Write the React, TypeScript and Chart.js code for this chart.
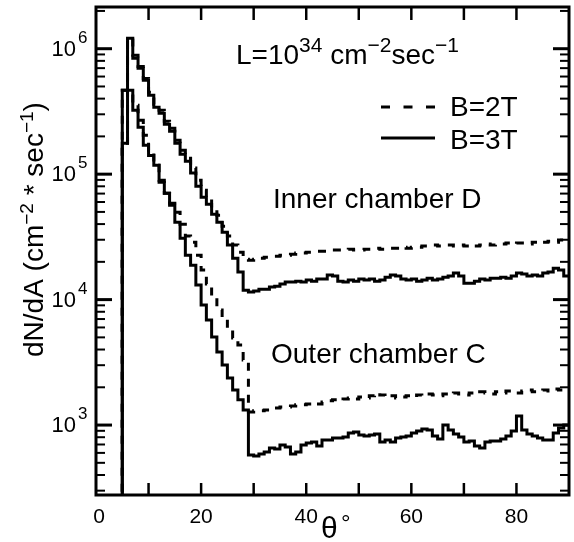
import React, { useEffect, useRef } from 'react';
import { Chart, registerables } from 'chart.js';

Chart.register(...registerables);

// ---- bins: 1 degree wide, first filled bin starts at 5 deg, last ends at 90 deg
const binEdges: number[] = Array.from({ length: 86 }, (_, i) => 5 + i);

// ---- series (values per bin, bins 5..89)
const innerB3 = [
  1.76e5, 1.21e6, 8.4e5, 6.98e5, 5.6e5, 4.25e5, 3.41e5, 3.06e5, 2.5e5, 2.2e5,
  1.76e5, 1.44e5, 1.27e5, 1.02e5, 8.0e4, 6.55e4, 5.76e4, 4.79e4, 4.14e4, 3.45e4,
  2.72e4, 2.14e4, 1.66e4, 1.19e4,
  1.15e4, 1.17e4, 1.21e4, 1.21e4, 1.26e4, 1.28e4, 1.33e4, 1.38e4, 1.38e4, 1.4e4,
  1.38e4, 1.43e4, 1.4e4, 1.46e4, 1.46e4, 1.57e4, 1.54e4, 1.4e4, 1.38e4, 1.43e4,
  1.4e4, 1.46e4, 1.43e4, 1.46e4, 1.4e4, 1.43e4, 1.51e4, 1.57e4, 1.54e4, 1.46e4,
  1.43e4, 1.46e4, 1.4e4, 1.43e4, 1.48e4, 1.43e4, 1.46e4, 1.51e4, 1.54e4, 1.63e4,
  1.54e4, 1.35e4, 1.35e4, 1.4e4, 1.46e4, 1.43e4, 1.48e4, 1.48e4, 1.51e4, 1.48e4,
  1.54e4, 1.63e4, 1.6e4, 1.54e4, 1.57e4, 1.54e4, 1.63e4, 1.66e4, 1.78e4, 1.72e4,
  1.54e4,
];
const innerB2 = [
  1.76e5, 1.21e6, 8.85e5, 7.22e5, 5.8e5, 4.49e5, 3.6e5, 3.23e5, 2.64e5, 2.32e5,
  1.86e5, 1.55e5, 1.34e5, 1.12e5, 8.96e4, 7.45e4, 6.43e4, 5.36e4, 4.71e4, 3.85e4,
  3.21e4, 2.72e4, 2.39e4, 2.1e4,
  2.06e4, 2.1e4, 2.14e4, 2.18e4, 2.22e4, 2.22e4, 2.26e4, 2.26e4, 2.3e4, 2.35e4,
  2.35e4, 2.39e4, 2.39e4, 2.43e4, 2.43e4, 2.48e4, 2.48e4, 2.48e4, 2.48e4, 2.52e4,
  2.48e4, 2.48e4, 2.52e4, 2.52e4, 2.57e4, 2.52e4, 2.57e4, 2.57e4, 2.57e4, 2.62e4,
  2.57e4, 2.62e4, 2.62e4, 2.67e4, 2.67e4, 2.72e4, 2.67e4, 2.72e4, 2.72e4, 2.67e4,
  2.72e4, 2.67e4, 2.72e4, 2.67e4, 2.72e4, 2.77e4, 2.72e4, 2.77e4, 2.77e4, 2.82e4,
  2.77e4, 2.82e4, 2.82e4, 2.77e4, 2.87e4, 2.82e4, 2.87e4, 2.92e4, 2.87e4, 2.98e4,
  3.09e4,
];
const outerB3 = [
  4.66e5, 4.66e5, 3.23e5, 2.36e5, 1.7e5, 1.41e5, 1.18e5, 8.6e4, 7.05e4, 5.66e4,
  4.14e4, 3.09e4, 2.26e4, 1.88e4, 1.31e4, 9.04e3, 6.87e3, 5.03e3, 3.82e3, 3.01e3,
  2.37e3, 1.9e3, 1.59e3, 1.32e3,
  578, 568, 589, 611, 657, 645, 694, 669, 589, 611,
  694, 720, 733, 681, 761, 761, 789, 789, 804, 865,
  881, 834, 819, 834, 849, 733, 761, 733, 789, 804,
  819, 865, 898, 931, 914, 819, 775, 1000, 914, 849,
  804, 733, 747, 681, 657, 733, 747, 747, 775, 819,
  898, 1180, 914, 849, 819, 789, 761, 761, 865, 948,
  1000,
];
const outerB2 = [
  4.66e5, 4.66e5, 3.54e5, 2.69e5, 2.04e5, 1.55e5, 1.18e5, 8.96e4, 7.05e4, 5.87e4,
  4.98e4, 3.99e4, 3.21e4, 2.87e4, 2.26e4, 1.72e4, 1.33e4, 1.05e4, 8.25e3, 7.12e3,
  5.93e3, 4.94e3, 4.34e3, 3.3e3,
  1.27e3, 1.3e3, 1.3e3, 1.32e3, 1.34e3, 1.37e3, 1.39e3, 1.39e3, 1.42e3, 1.45e3,
  1.45e3, 1.47e3, 1.5e3, 1.47e3, 1.53e3, 1.56e3, 1.59e3, 1.56e3, 1.61e3, 1.64e3,
  1.61e3, 1.67e3, 1.64e3, 1.71e3, 1.8e3, 1.74e3, 1.67e3, 1.71e3, 1.64e3, 1.67e3,
  1.71e3, 1.67e3, 1.74e3, 1.71e3, 1.77e3, 1.74e3, 1.71e3, 1.77e3, 1.74e3, 1.8e3,
  1.77e3, 1.74e3, 1.8e3, 1.77e3, 1.84e3, 1.8e3, 1.77e3, 1.84e3, 1.8e3, 1.87e3,
  1.84e3, 1.8e3, 1.87e3, 1.9e3, 1.84e3, 1.87e3, 1.9e3, 1.87e3, 1.94e3, 1.9e3,
  1.97e3,
];
const emptyLevel = 1; // below the axis: "no entries" before the first bin

// ---- axes
const xMin = 0;
const xMax = 90;
const yMin = 277;
const yMax = 2.15e6;
const xTickValues = [10, 20, 30, 40, 50, 60, 70, 80];
const xLabelValues = [0, 20, 40, 60, 80];
const xLabels = ['0', '20', '40', '60', '80'];
const yDecades = [2, 3, 4, 5, 6];
const yLabelExponents = ['3', '4', '5', '6'];
const yLabelDecades = [3, 4, 5, 6];
const yMinorMultipliers = [2, 3, 4, 5, 6, 7, 8, 9];

const FONT = '"Liberation Sans", Arial, Helvetica, sans-serif';

type Seg = { t: string; sup?: boolean };

function drawSegs(ctx: CanvasRenderingContext2D, segs: Seg[], x: number, y: number, size: number, supSize: number, supRise: number) {
  let cx = x;
  ctx.textAlign = 'left';
  ctx.textBaseline = 'alphabetic';
  for (const s of segs) {
    ctx.font = `${s.sup ? supSize : size}px ${FONT}`;
    ctx.fillText(s.t, cx, s.sup ? y - supRise : y);
    cx += ctx.measureText(s.t).width;
  }
  return cx;
}

function toPoints(vals: number[]) {
  const pts: { x: number; y: number }[] = [{ x: xMin, y: emptyLevel }];
  vals.forEach((v, i) => pts.push({ x: binEdges[i], y: v }));
  pts.push({ x: binEdges[vals.length], y: vals[vals.length - 1] });
  return pts;
}

const decorPlugin = {
  id: 'decor',
  afterDraw(chart: any) {
    const { ctx, chartArea: a, scales } = chart;
    const xs = scales.x;
    const ys = scales.y;
    ctx.save();
    ctx.strokeStyle = '#000';
    ctx.fillStyle = '#000';
    ctx.setLineDash([]);
    const seg = (x1: number, y1: number, x2: number, y2: number) => {
      ctx.beginPath();
      ctx.moveTo(x1, y1);
      ctx.lineTo(x2, y2);
      ctx.stroke();
    };
    // x ticks (bottom and top, inward)
    ctx.lineWidth = 2.5;
    for (const v of xTickValues) {
      const px = xs.getPixelForValue(v);
      seg(px, a.bottom, px, a.bottom - 12);
      seg(px, a.top, px, a.top + 13);
    }
    // y ticks (left and right, inward)
    for (const d of yDecades) {
      for (const m of [1, ...yMinorMultipliers]) {
        const v = m * Math.pow(10, d);
        if (v < yMin || v > yMax) continue;
        const py = ys.getPixelForValue(v);
        const len = m === 1 ? 16 : 9;
        ctx.lineWidth = m === 1 ? 3 : 2;
        seg(a.left, py, a.left + len, py);
        seg(a.right, py, a.right - len, py);
      }
    }
    // frame
    ctx.lineWidth = 3;
    ctx.strokeRect(a.left, a.top, a.right - a.left, a.bottom - a.top);

    // x tick labels
    ctx.font = `21px ${FONT}`;
    ctx.textAlign = 'center';
    ctx.textBaseline = 'alphabetic';
    xLabelValues.forEach((v, i) => {
      const px = xs.getPixelForValue(v);
      ctx.fillText(xLabels[i], px + (v === 0 ? 3 : 0), 523);
    });
    // y tick labels 10^n
    yLabelDecades.forEach((d, i) => {
      const py = ys.getPixelForValue(Math.pow(10, d));
      ctx.font = `22px ${FONT}`;
      ctx.textAlign = 'right';
      ctx.fillText('10', 76, py + 7);
      ctx.font = `17px ${FONT}`;
      ctx.textAlign = 'left';
      ctx.fillText(yLabelExponents[i], 78, py - 6);
    });

    // x title
    ctx.font = `30px ${FONT}`;
    ctx.textAlign = 'left';
    ctx.fillText('θ', 321, 538);
    ctx.font = `24px ${FONT}`;
    ctx.fillText('°', 341, 531);

    // y title (rotated)
    ctx.save();
    ctx.translate(43, 357);
    ctx.rotate(-Math.PI / 2);
    drawSegs(ctx, [
      { t: 'dN/dA (cm' }, { t: '−2', sup: true }, { t: ' * sec' }, { t: '−1', sup: true }, { t: ')' },
    ], 0, 0, 28, 19, 10);
    ctx.restore();

    // luminosity
    drawSegs(ctx, [
      { t: 'L=10' }, { t: '34', sup: true }, { t: ' cm' }, { t: '−2', sup: true }, { t: 'sec' }, { t: '−1', sup: true },
    ], 236, 64, 28, 21, 12);

    // legend
    ctx.lineWidth = 3;
    ctx.setLineDash([9, 13.5]);
    seg(381, 107, 435, 107);
    ctx.setLineDash([]);
    seg(381, 138, 435, 138);
    ctx.font = `28px ${FONT}`;
    ctx.textAlign = 'left';
    ctx.fillText('B=2T', 450, 116);
    ctx.fillText('B=3T', 450, 149);

    // chamber labels
    ctx.fillText('Inner chamber D', 273, 208);
    ctx.fillText('Outer chamber C', 271, 363);
    ctx.restore();
  },
};

export default function App() {
  const ref = useRef<HTMLCanvasElement | null>(null);
  useEffect(() => {
    if (!ref.current) return;
    const common = {
      borderColor: '#000',
      borderWidth: 3,
      stepped: true as const,
      pointRadius: 0,
      fill: false,
      borderJoinStyle: 'miter' as const,
      borderCapStyle: 'butt' as const,
    };
    const chart = new Chart(ref.current, {
      type: 'line',
      data: {
        datasets: [
          { ...common, label: 'Inner D, B=3T', data: toPoints(innerB3) },
          { ...common, label: 'Outer C, B=3T', data: toPoints(outerB3) },
          { ...common, label: 'Inner D, B=2T', data: toPoints(innerB2), borderDash: [8, 8], borderWidth: 3 },
          { ...common, label: 'Outer C, B=2T', data: toPoints(outerB2), borderDash: [8, 8], borderWidth: 3 },
        ],
      },
      options: {
        responsive: false,
        animation: false,
        devicePixelRatio: 1,
        layout: { padding: { left: 96, top: 7, right: 5, bottom: 47 } },
        plugins: { legend: { display: false }, tooltip: { enabled: false } },
        scales: {
          x: { type: 'linear', min: xMin, max: xMax, display: false },
          y: { type: 'logarithmic', min: yMin, max: yMax, display: false },
        },
      },
      plugins: [decorPlugin],
    });
    return () => chart.destroy();
  }, []);
  return (
    <div style={{ position: 'absolute', left: 0, top: 0, width: 574, height: 542, background: '#fff' }}>
      <canvas ref={ref} width={574} height={542} style={{ display: 'block' }} />
    </div>
  );
}
